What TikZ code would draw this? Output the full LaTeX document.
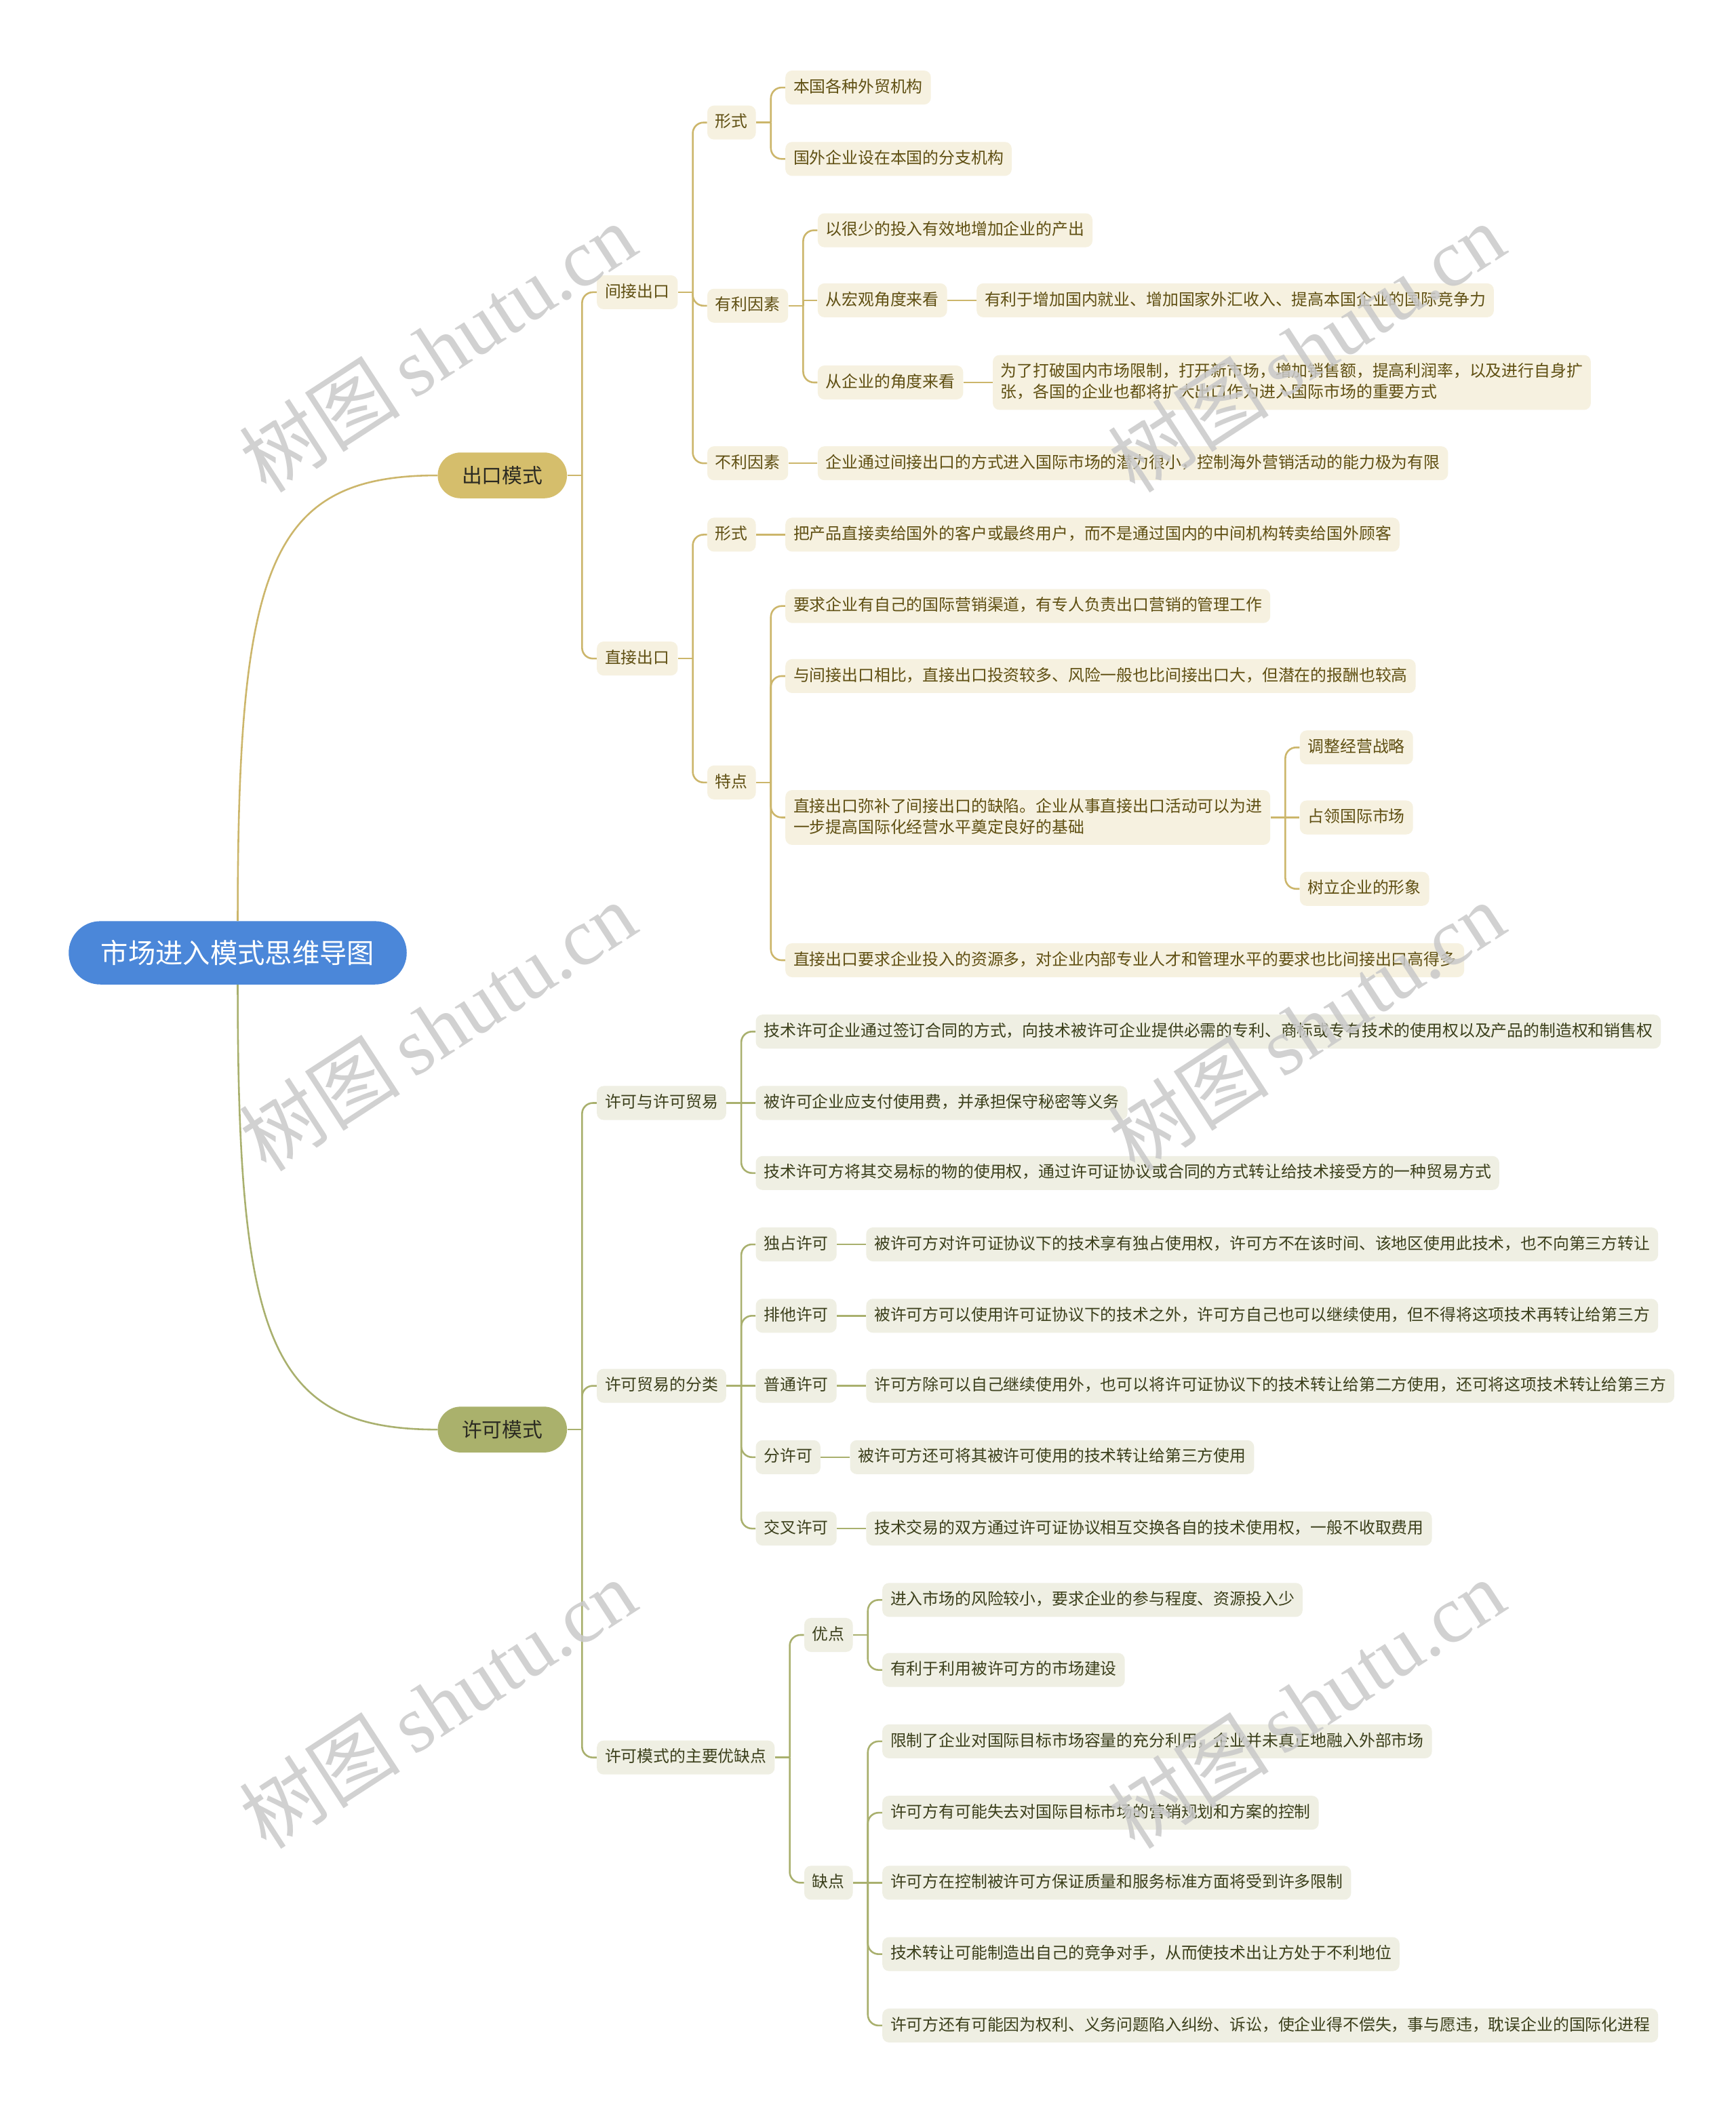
\documentclass[tikz,border=0pt]{standalone}
\usepackage{fontspec}
\setmainfont{Noto Sans CJK SC}
\newfontfamily\wmlatin{Liberation Serif}
\usetikzlibrary{calc}
\definecolor{rootblue}{HTML}{4B87D9}
\definecolor{goldfill}{HTML}{D5BE6C}
\definecolor{olivefill}{HTML}{AAB16C}
\definecolor{goldline}{HTML}{CCB66B}
\definecolor{oliveline}{HTML}{A9B06E}
\definecolor{goldleaf}{HTML}{F6F1E0}
\definecolor{oliveleaf}{HTML}{EFEFE3}
\definecolor{goldtext}{HTML}{5F4F12}
\definecolor{olivetext}{HTML}{3B3F1B}
\definecolor{lonetext}{HTML}{2B2A22}
\definecolor{wmgray}{HTML}{C9C9C9}
\newcommand\fork[3]{\draw[#1, rounded corners=8] ($(#2.east)+(11,0)$) |- (#3.west);}
\newcommand\stub[2]{\draw[#1] (#2.east) -- ++(11,0);}
\newcommand\direct[3]{\draw[#1] (#2.east) -- (#3.west);}
\begin{document}
\begin{tikzpicture}[x=1pt,y=-1pt,
  rootn/.style={fill=rootblue, text=white, rounded corners=23.5, minimum height=47, inner xsep=24, inner ysep=0,
    font=\fontsize{20.3}{24}\selectfont},
  lone/.style={rounded corners=17, minimum height=34, inner xsep=18, inner ysep=0, text=lonetext,
    font=\fontsize{15}{18}\selectfont},
  lg/.style={lone, fill=goldfill},
  lo/.style={lone, fill=olivefill},
  box/.style={anchor=west, align=left, rounded corners=5, inner xsep=6, inner ysep=6.6,
    text height=9.6, text depth=2.4, font=\fontsize{12}{15.5}\selectfont},
  twoline/.style={text height=25.1},
  gb/.style={box, fill=goldleaf, text=goldtext},
  ob/.style={box, fill=oliveleaf, text=olivetext},
  gl/.style={draw=goldline, line width=1.3},
  ol/.style={draw=oliveline, line width=1.3},
  wm/.style={rotate=33, text=wmgray, opacity=0.85, inner sep=0, font=\fontsize{60}{63}\selectfont}
]
\useasboundingbox (0,0) rectangle (1289,1567.5);
\fill[white] (0,0) rectangle (1289,1567.5);

% root and main branches
\node[rootn] (root) at (176.5,707.5) {市场进入模式思维导图};
\node[lg] (A) at (373,353) {出口模式};
\node[lo] (B) at (373,1061.5) {许可模式};

% ---------- 出口模式 ----------
\node[gb] (A1) at (443,217) {间接出口};
\node[gb] (A2) at (443,489) {直接出口};

\node[gb] (A11) at (525,91) {形式};
\node[gb] (A12) at (525,227) {有利因素};
\node[gb] (A13) at (525,344) {不利因素};

\node[gb] (A111) at (583,65) {本国各种外贸机构};
\node[gb] (A112) at (583,118) {国外企业设在本国的分支机构};

\node[gb] (A121) at (607,171) {以很少的投入有效地增加企业的产出};
\node[gb] (A122) at (607,223) {从宏观角度来看};
\node[gb] (A1221) at (725,223) {有利于增加国内就业、增加国家外汇收入、提高本国企业的国际竞争力};
\node[gb] (A123) at (607,284) {从企业的角度来看};
\node[gb, twoline] (A1231) at (737,284) {为了打破国内市场限制，打开新市场，增加销售额，提高利润率，以及进行自身扩\\张，各国的企业也都将扩大出口作为进入国际市场的重要方式};

\node[gb] (A131) at (607,344) {企业通过间接出口的方式进入国际市场的潜力很小，控制海外营销活动的能力极为有限};

\node[gb] (A21) at (525,397) {形式};
\node[gb] (A211) at (583,397) {把产品直接卖给国外的客户或最终用户，而不是通过国内的中间机构转卖给国外顾客};
\node[gb] (A22) at (525,581) {特点};
\node[gb] (A221) at (583,450) {要求企业有自己的国际营销渠道，有专人负责出口营销的管理工作};
\node[gb] (A222) at (583,502) {与间接出口相比，直接出口投资较多、风险一般也比间接出口大，但潜在的报酬也较高};
\node[gb, twoline] (A223) at (583,607) {直接出口弥补了间接出口的缺陷。企业从事直接出口活动可以为进\\一步提高国际化经营水平奠定良好的基础};
\node[gb] (A2231) at (965,555) {调整经营战略};
\node[gb] (A2232) at (965,607) {占领国际市场};
\node[gb] (A2233) at (965,660) {树立企业的形象};
\node[gb] (A224) at (583,713) {直接出口要求企业投入的资源多，对企业内部专业人才和管理水平的要求也比间接出口高得多};

% ---------- 许可模式 ----------
\node[ob] (B1) at (443,819) {许可与许可贸易};
\node[ob] (B11) at (561,766) {技术许可企业通过签订合同的方式，向技术被许可企业提供必需的专利、商标或专有技术的使用权以及产品的制造权和销售权};
\node[ob] (B12) at (561,819) {被许可企业应支付使用费，并承担保守秘密等义务};
\node[ob] (B13) at (561,871) {技术许可方将其交易标的物的使用权，通过许可证协议或合同的方式转让给技术接受方的一种贸易方式};

\node[ob] (B2) at (443,1029) {许可贸易的分类};
\node[ob] (B21) at (561,924) {独占许可};
\node[ob] (B211) at (643,924) {被许可方对许可证协议下的技术享有独占使用权，许可方不在该时间、该地区使用此技术，也不向第三方转让};
\node[ob] (B22) at (561,977) {排他许可};
\node[ob] (B221) at (643,977) {被许可方可以使用许可证协议下的技术之外，许可方自己也可以继续使用，但不得将这项技术再转让给第三方};
\node[ob] (B23) at (561,1029) {普通许可};
\node[ob] (B231) at (643,1029) {许可方除可以自己继续使用外，也可以将许可证协议下的技术转让给第二方使用，还可将这项技术转让给第三方};
\node[ob] (B24) at (561,1082) {分许可};
\node[ob] (B241) at (631,1082) {被许可方还可将其被许可使用的技术转让给第三方使用};
\node[ob] (B25) at (561,1135) {交叉许可};
\node[ob] (B251) at (643,1135) {技术交易的双方通过许可证协议相互交换各自的技术使用权，一般不收取费用};

\node[ob] (B3) at (443,1305) {许可模式的主要优缺点};
\node[ob] (B31) at (597,1214) {优点};
\node[ob] (B311) at (655,1188) {进入市场的风险较小，要求企业的参与程度、资源投入少};
\node[ob] (B312) at (655,1240) {有利于利用被许可方的市场建设};
\node[ob] (B32) at (597,1398) {缺点};
\node[ob] (B321) at (655,1293) {限制了企业对国际目标市场容量的充分利用，企业并未真正地融入外部市场};
\node[ob] (B322) at (655,1346) {许可方有可能失去对国际目标市场的营销规划和方案的控制};
\node[ob] (B323) at (655,1398) {许可方在控制被许可方保证质量和服务标准方面将受到许多限制};
\node[ob] (B324) at (655,1451) {技术转让可能制造出自己的竞争对手，从而使技术出让方处于不利地位};
\node[ob] (B325) at (655,1504) {许可方还有可能因为权利、义务问题陷入纠纷、诉讼，使企业得不偿失，事与愿违，耽误企业的国际化进程};

% ---------- connectors ----------
\draw[gl] (root.north) .. controls (176.5,420) and (200,353) .. (A.west);
\draw[ol] (root.south) .. controls (176.5,995) and (200,1061.5) .. (B.west);

\stub{gl}{A} \fork{gl}{A}{A1} \fork{gl}{A}{A2}
\stub{gl}{A1} \fork{gl}{A1}{A11} \fork{gl}{A1}{A12} \fork{gl}{A1}{A13}
\stub{gl}{A11} \fork{gl}{A11}{A111} \fork{gl}{A11}{A112}
\stub{gl}{A12} \fork{gl}{A12}{A121} \fork{gl}{A12}{A123}
\draw[gl] ($(A12.east)+(11,0)$) |- (A122.west);
\direct{gl}{A122}{A1221}
\direct{gl}{A123}{A1231}
\direct{gl}{A13}{A131}
\stub{gl}{A2} \fork{gl}{A2}{A21} \fork{gl}{A2}{A22}
\direct{gl}{A21}{A211}
\stub{gl}{A22} \fork{gl}{A22}{A221} \fork{gl}{A22}{A222} \fork{gl}{A22}{A223} \fork{gl}{A22}{A224}
\fork{gl}{A223}{A2231} \direct{gl}{A223}{A2232} \fork{gl}{A223}{A2233}

\stub{ol}{B} \fork{ol}{B}{B1} \fork{ol}{B}{B2} \fork{ol}{B}{B3}
\fork{ol}{B1}{B11} \direct{ol}{B1}{B12} \fork{ol}{B1}{B13}
\fork{ol}{B2}{B21} \fork{ol}{B2}{B22} \direct{ol}{B2}{B23} \fork{ol}{B2}{B24} \fork{ol}{B2}{B25}
\direct{ol}{B21}{B211}
\direct{ol}{B22}{B221}
\direct{ol}{B23}{B231}
\direct{ol}{B24}{B241}
\direct{ol}{B25}{B251}
\stub{ol}{B3} \fork{ol}{B3}{B31} \fork{ol}{B3}{B32}
\stub{ol}{B31} \fork{ol}{B31}{B311} \fork{ol}{B31}{B312}
\fork{ol}{B32}{B321} \fork{ol}{B32}{B322} \direct{ol}{B32}{B323} \fork{ol}{B32}{B324} \fork{ol}{B32}{B325}

% ---------- watermarks ----------
\foreach \x/\y [count=\i] in {325/258,970/258,325/762,970/762,325/1265,970/1265}
  \node[wm] (wm\i) at (\x,\y) {树图\,{\wmlatin shutu.cn}};
\end{tikzpicture}
\end{document}
